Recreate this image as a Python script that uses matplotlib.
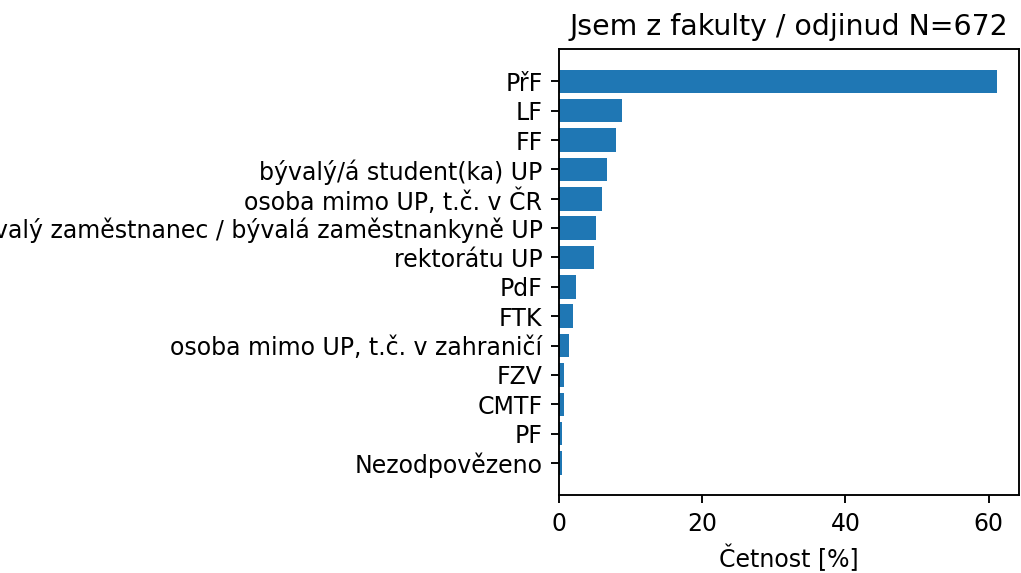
import matplotlib
matplotlib.use("Agg")
import matplotlib.pyplot as plt

# Kategorie a četnosti (%)
categories = [
    "PřF",
    "LF",
    "FF",
    "bývalý/á student(ka) UP",
    "osoba mimo UP, t.č. v ČR",
    "bývalý zaměstnanec / bývalá zaměstnankyně UP",
    "rektorátu UP",
    "PdF",
    "FTK",
    "osoba mimo UP, t.č. v zahraničí",
    "FZV",
    "CMTF",
    "PF",
    "Nezodpovězeno",
]
values = [61.16, 8.78, 7.89, 6.70, 5.95, 5.21, 4.91, 2.38, 1.93, 1.34, 0.74, 0.74, 0.45, 0.45]

DPI = 170.2
fig = plt.figure(figsize=(1021 / DPI, 573 / DPI), dpi=DPI)
ax = fig.add_axes([0.5475, 0.136, 0.4505, 0.778])

ax.barh(categories[::-1], values[::-1], color="#1f77b4")
ax.set_xlabel("Četnost [%]")
ax.set_title("Jsem z fakulty / odjinud N=672", fontsize=12)
ax.set_xticks([0, 20, 40, 60])

fig.savefig("out.png", dpi=DPI)
